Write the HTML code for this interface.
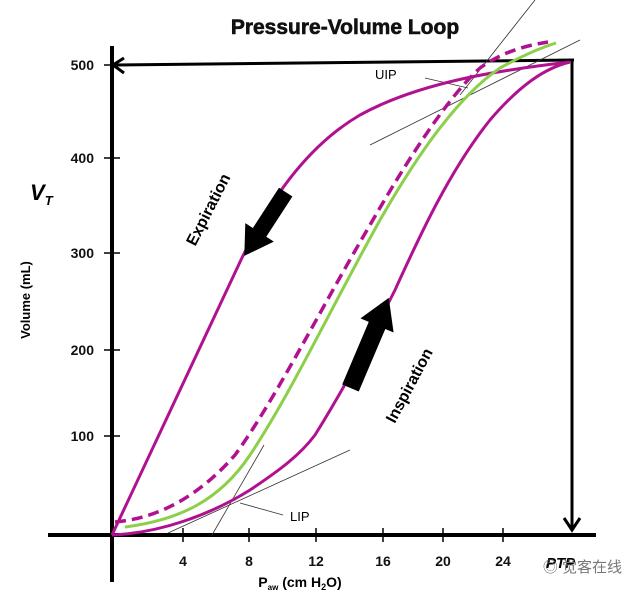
<!DOCTYPE html>
<html><head><meta charset="utf-8"><style>body{margin:0;background:#fff}svg{display:block}</style></head><body>
<svg width="640" height="595" viewBox="0 0 640 595" xmlns="http://www.w3.org/2000/svg" font-family="Liberation Sans, Arial, sans-serif">
<rect width="640" height="595" fill="#fff"/>
<text x="345" y="34" font-size="21" font-weight="bold" text-anchor="middle" fill="#111" stroke="#111" stroke-width="0.6">Pressure-Volume Loop</text>
<line x1="112" y1="46" x2="112" y2="582" stroke="#000" stroke-width="4"/>
<line x1="48" y1="535" x2="596" y2="535" stroke="#000" stroke-width="4"/>
<g stroke="#000" stroke-width="1.5">
<line x1="104" y1="65" x2="120" y2="65"/><line x1="104" y1="158" x2="120" y2="158"/><line x1="104" y1="253" x2="120" y2="253"/><line x1="104" y1="350" x2="120" y2="350"/><line x1="104" y1="436" x2="120" y2="436"/>
<line x1="183" y1="528" x2="183" y2="542"/><line x1="249" y1="528" x2="249" y2="542"/><line x1="316" y1="528" x2="316" y2="542"/><line x1="383" y1="528" x2="383" y2="542"/><line x1="443" y1="528" x2="443" y2="542"/><line x1="503" y1="528" x2="503" y2="542"/>
</g>
<g font-size="14" font-weight="bold" fill="#111" text-anchor="end">
<text x="94" y="70">500</text><text x="94" y="163">400</text><text x="94" y="258">300</text><text x="94" y="355">200</text><text x="94" y="441">100</text>
</g>
<g font-size="14" font-weight="bold" fill="#111" text-anchor="middle">
<text x="183" y="566">4</text><text x="249" y="566">8</text><text x="316" y="566">12</text><text x="383" y="566">16</text><text x="443" y="566">20</text><text x="503" y="566">24</text>
</g>
<text x="300" y="587" font-size="14" font-weight="bold" text-anchor="middle">P<tspan font-size="8" dy="3">aw</tspan><tspan dy="-3"> (cm H</tspan><tspan font-size="9" dy="3">2</tspan><tspan dy="-3">O)</tspan></text>
<text x="546" y="568" font-size="15" font-weight="bold" font-style="italic">PTP</text>
<text x="30" y="200" font-size="22" font-weight="bold" font-style="italic">V<tspan font-size="13" dy="5">T</tspan></text>
<text transform="translate(30,300) rotate(-90)" font-size="13" font-weight="bold" text-anchor="middle">Volume (mL)</text>
<line x1="572" y1="60" x2="572" y2="528" stroke="#000" stroke-width="3"/>
<line x1="116" y1="65" x2="574" y2="60" stroke="#000" stroke-width="3"/>
<polyline points="124,58 113,65 124,73" fill="none" stroke="#000" stroke-width="3"/>
<polyline points="564,518 572,530 580,518" fill="none" stroke="#000" stroke-width="3"/>
<g stroke="#333" stroke-width="0.8">
<line x1="370" y1="145" x2="580" y2="40"/><line x1="460" y1="95" x2="535" y2="0"/>
<line x1="168" y1="533" x2="350" y2="450"/><line x1="212" y1="535" x2="264" y2="445"/>
<line x1="283" y1="515" x2="240" y2="503"/><line x1="425" y1="78" x2="468" y2="88"/>
</g>
<text x="375" y="79" font-size="13">UIP</text>
<text x="290" y="521" font-size="13">LIP</text>
<path d="M112,535 L240,262 C262,215 300,150 360,115 C420,82 500,70 570,62" fill="none" stroke="#b0128f" stroke-width="3"/>
<path d="M112,535 C160,533 210,515 250,490 C280,470 300,455 315,435 C340,395 370,340 395,290 C420,235 450,170 490,120 C520,85 545,68 570,62" fill="none" stroke="#b0128f" stroke-width="3"/>
<path d="M125,527 C180,520 220,500 250,455 C290,395 330,310 380,220 C420,150 460,95 500,68 C520,57 540,48 556,43" fill="none" stroke="#8ccf4a" stroke-width="3"/>
<path d="M115,522 C160,518 200,495 235,455 C275,400 320,310 370,225 C410,155 450,95 480,68 C505,50 530,45 548,42" fill="none" stroke="#b0128f" stroke-width="3.5" stroke-dasharray="11,6"/>
<g transform="translate(265,224) rotate(123)"><polygon points="-38,-8 10,-8 10,-17 38,0 10,17 10,8 -38,8" fill="#000"/></g>
<g transform="translate(370,342) rotate(-67)"><polygon points="-50,-9 18,-9 18,-18 48,0 18,18 18,9 -50,9" fill="#000"/></g>
<text transform="translate(213,212) rotate(-63)" font-size="16" font-weight="bold" text-anchor="middle">Expiration</text>
<text transform="translate(414,388) rotate(-62)" font-size="16" font-weight="bold" text-anchor="middle">Inspiration</text>
<text x="622" y="572" font-size="15" fill="#777" text-anchor="end" font-family="Liberation Sans, Noto Sans CJK SC, sans-serif">◎ 觉客在线</text>
</svg>
</body></html>
